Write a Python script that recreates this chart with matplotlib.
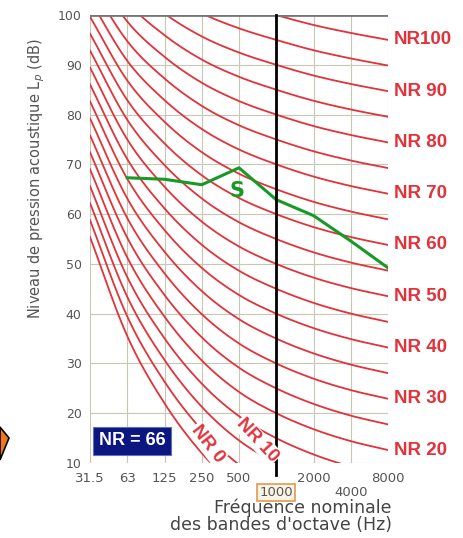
import numpy as np
import matplotlib.pyplot as plt
from matplotlib.patches import Polygon

# bandes d'octave
bands = ['31.5', '63', '125', '250', '500', '1000', '2000', '4000', '8000']
# coefficients des courbes NR : L = a + b * NR
nr_a = [55.4, 35.5, 22.0, 12.0, 4.8, 0.0, -3.5, -6.1, -8.0]
nr_b = [0.681, 0.790, 0.870, 0.930, 0.974, 1.000, 1.015, 1.025, 1.030]
nr_levels = list(range(0, 105, 5))
nr_labels = [100, 90, 80, 70, 60, 50, 40, 30, 20]

# spectre mesure S (63 Hz -> 8000 Hz)
s_bands = [1, 2, 3, 4, 5, 6, 7, 8]
s_values = [67.3, 67.0, 65.9, 69.3, 62.9, 59.7, 54.6, 49.2]

red = '#e2323a'
grey_txt = '#555555'


def smooth(xs, ys, n=12):
    # courbe Catmull-Rom passant par les points
    xs = np.asarray(xs, float)
    ys = np.asarray(ys, float)
    px = np.concatenate([[2 * xs[0] - xs[1]], xs, [2 * xs[-1] - xs[-2]]])
    py = np.concatenate([[2 * ys[0] - ys[1]], ys, [2 * ys[-1] - ys[-2]]])
    ox, oy = [], []
    t = np.linspace(0, 1, n, endpoint=False)
    for i in range(1, len(px) - 2):
        for p, o in ((px, ox), (py, oy)):
            p0, p1, p2, p3 = p[i - 1], p[i], p[i + 1], p[i + 2]
            o.extend(0.5 * (2 * p1 + (-p0 + p2) * t + (2 * p0 - 5 * p1 + 4 * p2 - p3) * t ** 2
                            + (-p0 + 3 * p1 - 3 * p2 + p3) * t ** 3))
    ox.append(xs[-1])
    oy.append(ys[-1])
    return np.array(ox), np.array(oy)


fig = plt.figure(figsize=(4.64, 5.38), dpi=100)
ax = fig.add_axes([90 / 464, 75 / 538, 298 / 464, 448 / 538])

x = np.arange(len(bands))
a = np.array(nr_a)
b = np.array(nr_b)
for nr in nr_levels:
    cx, cy = smooth(x, a + b * nr)
    ax.plot(cx, cy, color=red, lw=1.3, zorder=2)

ax.plot(s_bands, s_values, color='#179a25', lw=2.2, zorder=4)
ax.text(3.95, 64.6, 'S', color='#179a25', fontsize=15, fontweight='bold',
        ha='center', va='center', zorder=5)

ax.plot([5, 5], [7.5, 100], color='black', lw=2, zorder=5, clip_on=False)
ax.axhline(100, color='#777777', lw=2, zorder=3)

ax.set_xlim(0, 8)
ax.set_ylim(10, 100)
ax.set_yticks(range(10, 101, 10))
ax.set_xticks(x)
ax.grid(True, color='#c6c8b4', lw=0.8, zorder=1)
for s in ax.spines.values():
    s.set_visible(False)
ax.tick_params(length=0, labelsize=9, labelcolor=grey_txt, pad=6)
ax.set_xticklabels([])
for i, lab in enumerate(bands):
    dy = -4.6 if lab in ('1000', '4000') else -1.8
    kw = {}
    if lab == '1000':
        kw['bbox'] = dict(boxstyle='square,pad=0.15', fc='#fbf3e6', ec='#e09a50', lw=1.2)
    ax.text(i, 10 + dy, lab, ha='center', va='top', fontsize=9.5,
            color=grey_txt, **kw)

# etiquettes NR a droite
for nr in nr_labels:
    yv = nr_a[-1] + nr_b[-1] * nr
    txt = 'NR100' if nr == 100 else f'NR {nr}'
    ax.text(8.15, yv, txt, color=red, fontsize=13.5, fontweight='bold',
            family='Liberation Sans', ha='left', va='center', clip_on=False)

ax.text(3.15, 13.9, 'NR 0', color=red, fontsize=13.5, fontweight='bold', rotation=-52,
        ha='center', va='center', zorder=6, family='Liberation Sans',
        bbox=dict(boxstyle='square,pad=0.05', fc='white', ec='none'))
ax.text(4.5, 14.6, 'NR 10', color=red, fontsize=13.5, fontweight='bold', rotation=-47,
        ha='center', va='center', zorder=6, family='Liberation Sans',
        bbox=dict(boxstyle='square,pad=0.05', fc='white', ec='none'))

ax.text(1.13, 14.5, 'NR = 66', color='white', fontsize=13, fontweight='bold',
        ha='center', va='center', zorder=6, family='Liberation Sans',
        bbox=dict(boxstyle='square,pad=0.3', fc='#0c1680', ec='#6070c0', lw=0.8))

fig.text(37 / 464, 1 - 178 / 538, 'Niveau de pression acoustique L$_p$ (dB)',
         rotation=90, ha='center', va='center', fontsize=10.5, color=grey_txt)
fig.text(392 / 464, 1 - 516 / 538, 'Fréquence nominale\ndes bandes d\'octave (Hz)',
         ha='right', va='center', fontsize=12.5, color='#444444',
         multialignment='right', linespacing=0.95)

fig.patches.append(Polygon([[0, 1 - 427 / 538], [9 / 464, 1 - 438 / 538], [0, 1 - 460 / 538]],
                           closed=True, fc='#f07818', ec='black', lw=1.2,
                           transform=fig.transFigure, figure=fig))

fig.savefig('out.png', dpi=100)
